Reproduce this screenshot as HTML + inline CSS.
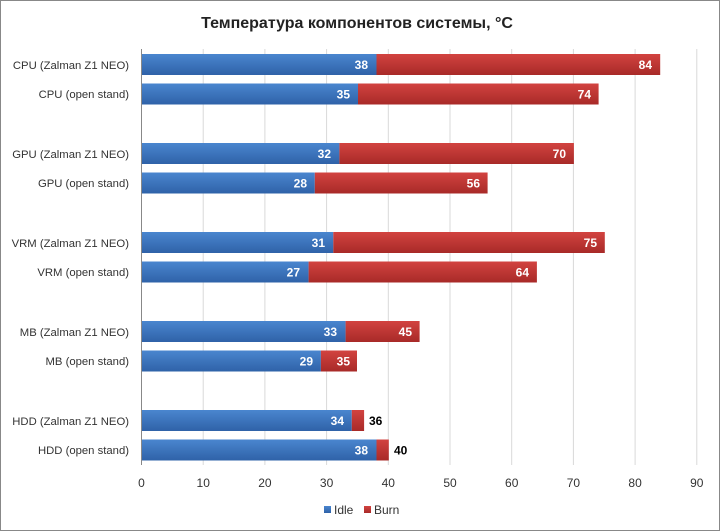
<!DOCTYPE html><html><head><style>body{margin:0;background:#fff}svg{display:block}text{font-family:"Liberation Sans","DejaVu Sans",sans-serif}</style></head><body>
<svg width="720" height="531" viewBox="0 0 720 531">
<defs>
<linearGradient id="b" x1="0" y1="0" x2="0" y2="1"><stop offset="0" stop-color="#4a86cf"/><stop offset="1" stop-color="#2f62a8"/></linearGradient>
<linearGradient id="r" x1="0" y1="0" x2="0" y2="1"><stop offset="0" stop-color="#d24340"/><stop offset="1" stop-color="#a82a28"/></linearGradient>
</defs>
<rect x="0.5" y="0.5" width="719" height="530" fill="#fff" stroke="#888"/>
<text x="357" y="28" font-size="16" font-weight="bold" text-anchor="middle" fill="#222">Температура компонентов системы, °С</text>
<g stroke="#d9d9d9">
<line x1="203.2" y1="49" x2="203.2" y2="465"/><line x1="264.9" y1="49" x2="264.9" y2="465"/><line x1="326.6" y1="49" x2="326.6" y2="465"/><line x1="388.3" y1="49" x2="388.3" y2="465"/><line x1="450" y1="49" x2="450" y2="465"/><line x1="511.7" y1="49" x2="511.7" y2="465"/><line x1="573.4" y1="49" x2="573.4" y2="465"/><line x1="635.1" y1="49" x2="635.1" y2="465"/><line x1="696.8" y1="49" x2="696.8" y2="465"/>
</g>
<line x1="141.5" y1="49" x2="141.5" y2="465" stroke="#888"/>
<g font-size="11.3" fill="#333" text-anchor="end">
<text x="129" y="69">CPU (Zalman Z1 NEO)</text><text x="129" y="98">CPU (open stand)</text>
<text x="129" y="158">GPU (Zalman Z1 NEO)</text><text x="129" y="187">GPU (open stand)</text>
<text x="129" y="247">VRM (Zalman Z1 NEO)</text><text x="129" y="276">VRM (open stand)</text>
<text x="129" y="336">MB (Zalman Z1 NEO)</text><text x="129" y="365">MB (open stand)</text>
<text x="129" y="425">HDD (Zalman Z1 NEO)</text><text x="129" y="454">HDD (open stand)</text>
</g>
<g font-size="12" font-weight="bold">
<rect x="142" y="54" width="234.5" height="21" fill="url(#b)"/><rect x="376.5" y="54" width="283.7" height="21" fill="url(#r)"/>
<text x="368" y="69" fill="#fff" text-anchor="end">38</text><text x="652" y="69" fill="#fff" text-anchor="end">84</text>
<rect x="142" y="83.5" width="216" height="21" fill="url(#b)"/><rect x="358" y="83.5" width="240.6" height="21" fill="url(#r)"/>
<text x="350" y="98.5" fill="#fff" text-anchor="end">35</text><text x="591" y="98.5" fill="#fff" text-anchor="end">74</text>
<rect x="142" y="143" width="197.4" height="21" fill="url(#b)"/><rect x="339.4" y="143" width="234.5" height="21" fill="url(#r)"/>
<text x="331" y="158" fill="#fff" text-anchor="end">32</text><text x="566" y="158" fill="#fff" text-anchor="end">70</text>
<rect x="142" y="172.5" width="172.8" height="21" fill="url(#b)"/><rect x="314.8" y="172.5" width="172.8" height="21" fill="url(#r)"/>
<text x="307" y="187.5" fill="#fff" text-anchor="end">28</text><text x="480" y="187.5" fill="#fff" text-anchor="end">56</text>
<rect x="142" y="232" width="191.3" height="21" fill="url(#b)"/><rect x="333.3" y="232" width="271.5" height="21" fill="url(#r)"/>
<text x="325" y="247" fill="#fff" text-anchor="end">31</text><text x="597" y="247" fill="#fff" text-anchor="end">75</text>
<rect x="142" y="261.5" width="166.6" height="21" fill="url(#b)"/><rect x="308.6" y="261.5" width="228.3" height="21" fill="url(#r)"/>
<text x="300" y="276.5" fill="#fff" text-anchor="end">27</text><text x="529" y="276.5" fill="#fff" text-anchor="end">64</text>
<rect x="142" y="321" width="203.6" height="21" fill="url(#b)"/><rect x="345.6" y="321" width="74" height="21" fill="url(#r)"/>
<text x="337" y="336" fill="#fff" text-anchor="end">33</text><text x="412" y="336" fill="#fff" text-anchor="end">45</text>
<rect x="142" y="350.5" width="178.9" height="21" fill="url(#b)"/><rect x="320.9" y="350.5" width="36.1" height="21" fill="url(#r)"/>
<text x="313" y="365.5" fill="#fff" text-anchor="end">29</text><text x="350" y="365.5" fill="#fff" text-anchor="end">35</text>
<rect x="142" y="410" width="209.8" height="21" fill="url(#b)"/><rect x="351.8" y="410" width="12.3" height="21" fill="url(#r)"/>
<text x="344" y="425" fill="#fff" text-anchor="end">34</text><text x="369" y="425" fill="#000">36</text>
<rect x="142" y="439.5" width="234.5" height="21" fill="url(#b)"/><rect x="376.5" y="439.5" width="12.3" height="21" fill="url(#r)"/>
<text x="368" y="454.5" fill="#fff" text-anchor="end">38</text><text x="394" y="454.5" fill="#000">40</text>
</g>
<g font-size="12" fill="#333" text-anchor="middle">
<text x="141.5" y="487">0</text><text x="203.2" y="487">10</text><text x="264.9" y="487">20</text><text x="326.6" y="487">30</text><text x="388.3" y="487">40</text><text x="450" y="487">50</text><text x="511.7" y="487">60</text><text x="573.4" y="487">70</text><text x="635.1" y="487">80</text><text x="696.8" y="487">90</text>
</g>
<rect x="324" y="506" width="7" height="7" fill="url(#b)"/><text x="334" y="514" font-size="12" fill="#333">Idle</text>
<rect x="364" y="506" width="7" height="7" fill="url(#r)"/><text x="374" y="514" font-size="12" fill="#333">Burn</text>
</svg></body></html>
